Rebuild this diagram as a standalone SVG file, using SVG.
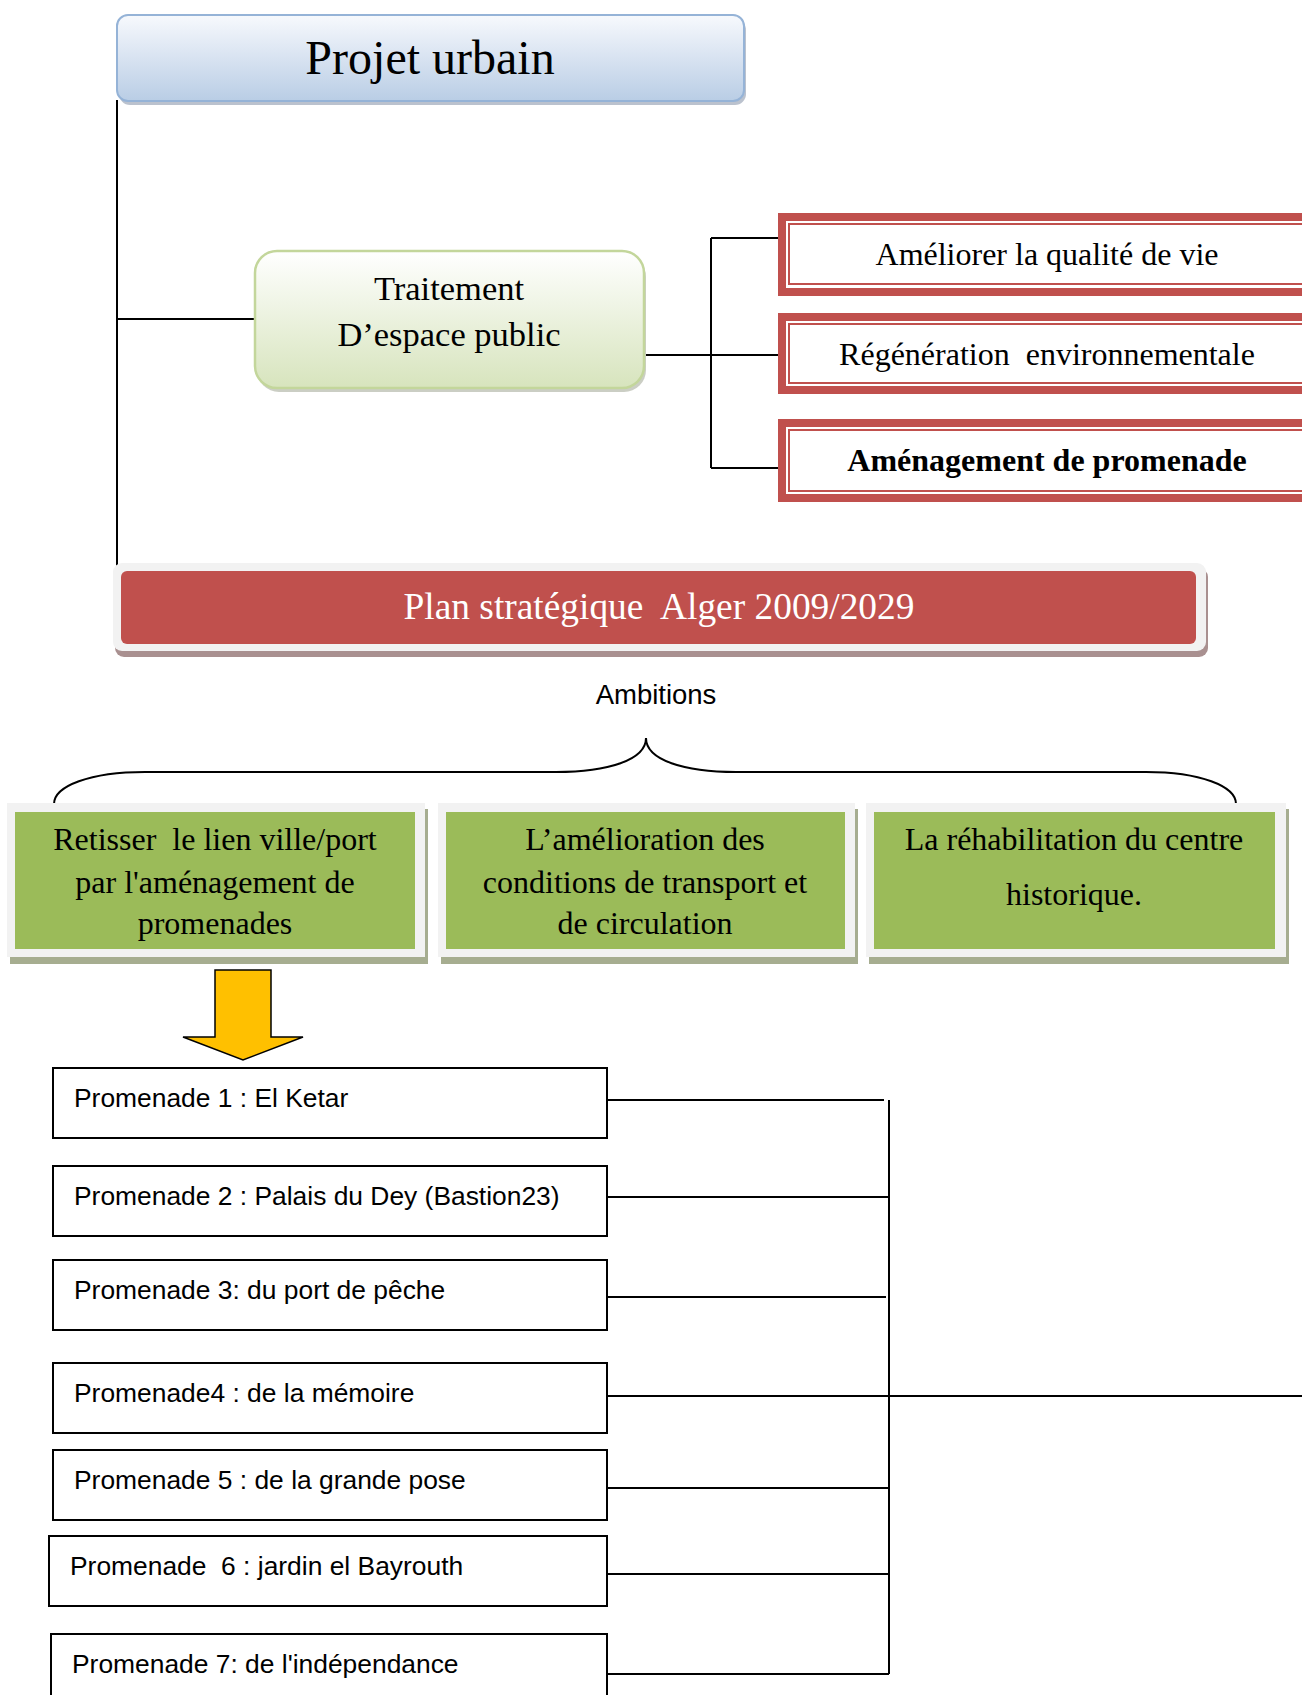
<svg xmlns="http://www.w3.org/2000/svg" width="1302" height="1695" viewBox="0 0 1302 1695">
<defs>
<linearGradient id="gBlue" x1="0" y1="0" x2="0" y2="1"><stop offset="0" stop-color="#F7F9FD"/><stop offset="1" stop-color="#B9CDE5"/></linearGradient>
<linearGradient id="gGreen" x1="0" y1="0" x2="0" y2="1"><stop offset="0" stop-color="#FFFFFF"/><stop offset="1" stop-color="#D7E4BD"/></linearGradient>
<style>
text{white-space:pre}
.serif{font-family:"Liberation Serif","Times New Roman",serif;fill:#000}
.sans{font-family:"Liberation Sans",Arial,sans-serif;fill:#000;font-size:26.4px}
.conn{fill:none;stroke:#000;stroke-width:2}
.redOut{fill:#fff;stroke:#C0504D;stroke-width:8}
.redIn{fill:none;stroke:#C0504D;stroke-width:2}
.prom{fill:#fff;stroke:#000;stroke-width:2}
.gFrame{fill:#F2F2F2}
.gSh{fill:#A6AD90}
.gFill{fill:#9BBB59}
.gt{font-size:32px}
</style>
</defs>
<rect width="1302" height="1695" fill="#fff"/>

<g id="connectors">
<path class="conn" d="M117,100 V570"/>
<path class="conn" d="M117,319 H255"/>
<path class="conn" d="M646,355 H778 M711,238 V468 M711,238 H778 M711,468 H778"/>
<path class="conn" d="M54,804 C54,786 90,772 145,772 L556,772 C608,772 646,760 646,738 C646,760 684,772 736,772 L1146,772 C1200,772 1236,786 1236,804"/>
<path class="conn" d="M607,1100 H884 M889,1100 V1674 M607,1197 H889 M607,1297 H886 M607,1396 H1302 M607,1488 H889 M607,1574 H889 M607,1674 H889"/>
</g>

<g id="projet-urbain">
<rect x="119" y="19" width="627" height="86" rx="11" fill="#8E9AAE" opacity="0.6"/>
<rect x="117" y="15" width="627" height="86" rx="11" fill="url(#gBlue)" stroke="#95B3D7" stroke-width="2"/>
<text class="serif" x="430" y="74" font-size="48" text-anchor="middle">Projet urbain</text>
</g>

<g id="traitement">
<rect x="257" y="255" width="389" height="137" rx="22" fill="#A8AE9C" opacity="0.6"/>
<rect x="255" y="251" width="389" height="137" rx="22" fill="url(#gGreen)" stroke="#C3D69B" stroke-width="2.5"/>
<text class="serif" x="449" y="300" font-size="34.5" text-anchor="middle">Traitement</text>
<text class="serif" x="449" y="346" font-size="34.5" text-anchor="middle">D’espace public</text>
</g>

<g id="ameliorer">
<rect class="redOut" x="782" y="217" width="540" height="75"/>
<rect class="redIn" x="789" y="224" width="540" height="60"/>
<text class="serif" x="1047" y="265" font-size="32" text-anchor="middle">Améliorer la qualité de vie</text>
</g>
<g id="regeneration">
<rect class="redOut" x="782" y="317" width="540" height="73"/>
<rect class="redIn" x="789" y="324" width="540" height="59"/>
<text class="serif" x="1047" y="365" font-size="32" text-anchor="middle">Régénération  environnementale</text>
</g>
<g id="amenagement">
<rect class="redOut" x="782" y="423" width="540" height="75"/>
<rect class="redIn" x="789" y="430" width="540" height="61"/>
<text class="serif" x="1047" y="471" font-size="32" font-weight="bold" text-anchor="middle">Aménagement de promenade</text>
</g>

<g id="plan-strategique">
<rect x="115" y="568" width="1093" height="89" rx="9" fill="#A99090"/>
<rect x="113" y="563" width="1093" height="88" rx="9" fill="#F2F2F2"/>
<rect x="121" y="571" width="1075" height="73" rx="6" fill="#C0504D"/>
<text class="serif" x="659" y="619" font-size="37.4" style="fill:#fff" text-anchor="middle">Plan stratégique  Alger 2009/2029</text>
</g>

<g id="ambitions">
<text class="sans" x="656" y="704" style="font-size:27.5px" text-anchor="middle">Ambitions</text>
</g>

<g id="amb-1">
<rect class="gSh" x="10" y="809" width="418" height="155"/>
<rect class="gFrame" x="7" y="803" width="418" height="154"/>
<rect class="gFill" x="15" y="812" width="400" height="137"/>
<text class="serif gt" x="215" y="850" text-anchor="middle">Retisser  le lien ville/port</text>
<text class="serif gt" x="215" y="893" text-anchor="middle">par l'aménagement de</text>
<text class="serif gt" x="215" y="934" text-anchor="middle">promenades</text>
</g>
<g id="amb-2">
<rect class="gSh" x="441" y="809" width="417" height="155"/>
<rect class="gFrame" x="438" y="803" width="417" height="154"/>
<rect class="gFill" x="446" y="812" width="399" height="137"/>
<text class="serif gt" x="645" y="850" text-anchor="middle">L’amélioration des</text>
<text class="serif gt" x="645" y="893" text-anchor="middle">conditions de transport et</text>
<text class="serif gt" x="645" y="934" text-anchor="middle">de circulation</text>
</g>
<g id="amb-3">
<rect class="gSh" x="869" y="809" width="420" height="155"/>
<rect class="gFrame" x="866" y="803" width="420" height="154"/>
<rect class="gFill" x="874" y="812" width="401" height="137"/>
<text class="serif gt" x="1074" y="850" text-anchor="middle">La réhabilitation du centre</text>
<text class="serif gt" x="1074" y="905" text-anchor="middle">historique.</text>
</g>

<g id="arrow">
<path d="M215,970 H271 V1037 H303 L243,1060 L183,1037 H215 Z" fill="#FFC000" stroke="#000" stroke-width="1.5" stroke-linejoin="miter"/>
</g>

<g id="promenade-1">
<rect class="prom" x="53" y="1068" width="554" height="70"/>
<text class="sans" x="74" y="1107">Promenade 1 : El Ketar</text>
</g>
<g id="promenade-2">
<rect class="prom" x="53" y="1166" width="554" height="70"/>
<text class="sans" x="74" y="1205">Promenade 2 : Palais du Dey (Bastion23)</text>
</g>
<g id="promenade-3">
<rect class="prom" x="53" y="1260" width="554" height="70"/>
<text class="sans" x="74" y="1299">Promenade 3: du port de pêche</text>
</g>
<g id="promenade-4">
<rect class="prom" x="53" y="1363" width="554" height="70"/>
<text class="sans" x="74" y="1402">Promenade4 : de la mémoire</text>
</g>
<g id="promenade-5">
<rect class="prom" x="53" y="1450" width="554" height="70"/>
<text class="sans" x="74" y="1489">Promenade 5 : de la grande pose</text>
</g>
<g id="promenade-6">
<rect class="prom" x="49" y="1536" width="558" height="70"/>
<text class="sans" x="70" y="1575">Promenade  6 : jardin el Bayrouth</text>
</g>
<g id="promenade-7">
<rect class="prom" x="51" y="1634" width="556" height="70"/>
<text class="sans" x="72" y="1673">Promenade 7: de l'indépendance</text>
</g>
</svg>
